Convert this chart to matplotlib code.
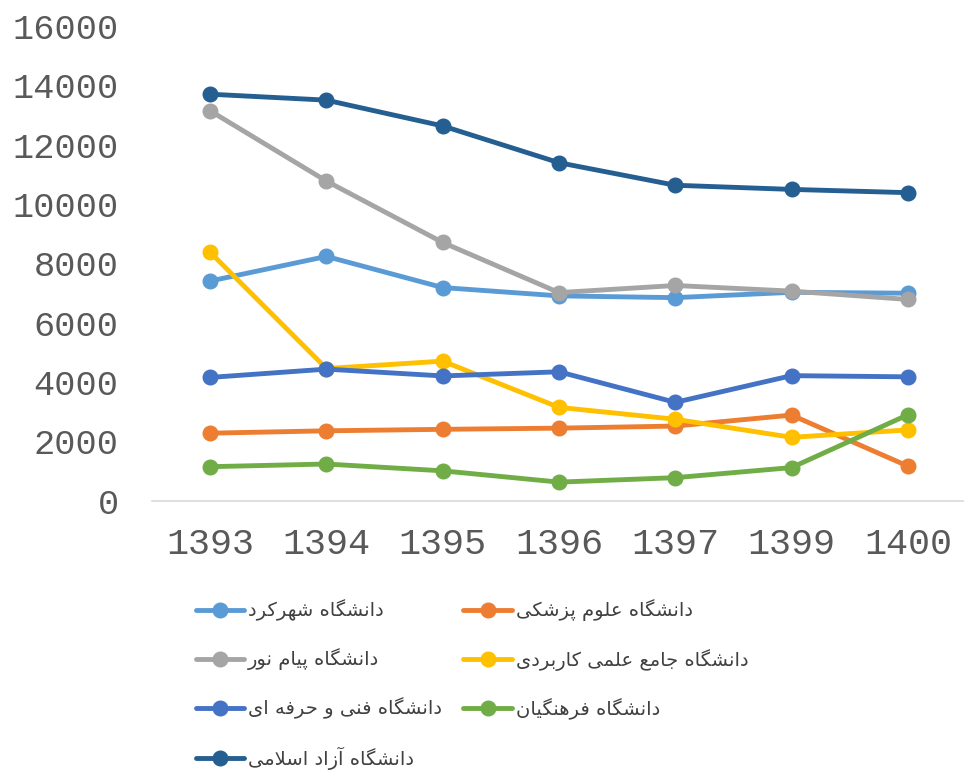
import matplotlib
matplotlib.use("Agg")
import matplotlib.pyplot as plt
from matplotlib.lines import Line2D
from matplotlib.font_manager import FontProperties

years = ["1393", "1394", "1395", "1396", "1397", "1399", "1400"]

shahrekord = [7400, 8230, 7180, 6900, 6840, 7020, 6990]
pezeshki = [2270, 2350, 2400, 2440, 2510, 2880, 1160]
payam_noor = [13140, 10770, 8700, 7010, 7250, 7060, 6780]
jame_karbordi = [8370, 4450, 4700, 3140, 2740, 2130, 2380]
fanni_herfei = [4150, 4430, 4200, 4340, 3310, 4210, 4170]
farhangian = [1140, 1230, 1000, 620, 770, 1110, 2890]
azad = [13700, 13500, 12630, 11390, 10630, 10490, 10380]

names = [
    "دانشگاه شهرکرد",
    "دانشگاه علوم پزشکی",
    "دانشگاه پیام نور",
    "دانشگاه جامع علمی کاربردی",
    "دانشگاه فنی و حرفه ای",
    "دانشگاه فرهنگیان",
    "دانشگاه آزاد اسلامی",
]
series = [shahrekord, pezeshki, payam_noor, jame_karbordi, fanni_herfei, farhangian, azad]
colors = ["#5B9BD5", "#ED7D31", "#A5A5A5", "#FFC000", "#4472C4", "#70AD47", "#255E91"]

# ---- minimal Persian shaping (presentation forms) + RTL ordering ----
FORMS = {
    '\u0627': ('\uFE8D', '\uFE8E', None, None),
    '\u0622': ('\uFE81', '\uFE82', None, None),
    '\u0628': ('\uFE8F', '\uFE90', '\uFE91', '\uFE92'),
    '\u067E': ('\uFB56', '\uFB57', '\uFB58', '\uFB59'),
    '\u062A': ('\uFE95', '\uFE96', '\uFE97', '\uFE98'),
    '\u062C': ('\uFE9D', '\uFE9E', '\uFE9F', '\uFEA0'),
    '\u062D': ('\uFEA1', '\uFEA2', '\uFEA3', '\uFEA4'),
    '\u062F': ('\uFEA9', '\uFEAA', None, None),
    '\u0631': ('\uFEAD', '\uFEAE', None, None),
    '\u0632': ('\uFEAF', '\uFEB0', None, None),
    '\u0633': ('\uFEB1', '\uFEB2', '\uFEB3', '\uFEB4'),
    '\u0634': ('\uFEB5', '\uFEB6', '\uFEB7', '\uFEB8'),
    '\u0639': ('\uFEC9', '\uFECA', '\uFECB', '\uFECC'),
    '\u0641': ('\uFED1', '\uFED2', '\uFED3', '\uFED4'),
    '\u06A9': ('\uFB8E', '\uFB8F', '\uFB90', '\uFB91'),
    '\u06AF': ('\uFB92', '\uFB93', '\uFB94', '\uFB95'),
    '\u0644': ('\uFEDD', '\uFEDE', '\uFEDF', '\uFEE0'),
    '\u0645': ('\uFEE1', '\uFEE2', '\uFEE3', '\uFEE4'),
    '\u0646': ('\uFEE5', '\uFEE6', '\uFEE7', '\uFEE8'),
    '\u0647': ('\uFEE9', '\uFEEA', '\uFEEB', '\uFEEC'),
    '\u0648': ('\uFEED', '\uFEEE', None, None),
    '\u06CC': ('\uFBFC', '\uFBFD', '\uFBFE', '\uFBFF'),
}
LAMALEF = {'\u0627': ('\uFEFB', '\uFEFC'), '\u0622': ('\uFEF5', '\uFEF6')}


def shape(text):
    chars = []
    i = 0
    while i < len(text):
        c = text[i]
        if c == '\u0644' and i + 1 < len(text) and text[i + 1] in LAMALEF:
            chars.append(('LA', text[i + 1]))
            i += 2
        else:
            chars.append(('C', c))
            i += 1

    def joins_next(item):
        kind, c = item
        if kind == 'LA':
            return False
        f = FORMS.get(c)
        return f is not None and f[2] is not None

    def joins_prev(item):
        kind, c = item
        if kind == 'LA':
            return True
        return c in FORMS

    out = []
    for idx, item in enumerate(chars):
        prev_j = idx > 0 and joins_next(chars[idx - 1]) and joins_prev(item)
        next_j = idx + 1 < len(chars) and joins_next(item) and joins_prev(chars[idx + 1])
        kind, c = item
        if kind == 'LA':
            out.append(LAMALEF[c][1] if prev_j else LAMALEF[c][0])
            continue
        f = FORMS.get(c)
        if f is None:
            out.append(c)
        elif prev_j and next_j:
            out.append(f[3])
        elif prev_j:
            out.append(f[1])
        elif next_j:
            out.append(f[2])
        else:
            out.append(f[0])
    return ''.join(reversed(out))


fig = plt.figure(figsize=(9.64, 7.83), dpi=100)
ax = fig.add_axes([152 / 964, 1 - 500.5 / 783, 814 / 964, (500.5 - 26) / 783])

x = list(range(len(years)))
for vals, col in zip(series, colors):
    ax.plot(x, vals, color=col, lw=3.5, marker='o', ms=10.5,
            solid_capstyle='round', solid_joinstyle='round', clip_on=False)

ax.set_xlim(-0.5, len(years) - 0.5)
ax.set_ylim(0, 16000)
ax.set_yticks(range(0, 16001, 2000))
ax.set_yticklabels([str(v) for v in range(0, 16001, 2000)])
ax.set_xticks(x)
ax.set_xticklabels(years)

for lab in ax.get_yticklabels():
    lab.set_fontproperties(FontProperties(family='Liberation Mono', size=25.5))
    lab.set_color('#595959')
for lab in ax.get_xticklabels():
    lab.set_fontproperties(FontProperties(family='Liberation Mono', size=26.5))
    lab.set_color('#595959')

ax.tick_params(axis='both', length=0)
ax.tick_params(axis='y', pad=24)
ax.tick_params(axis='x', pad=19)
for s in ['top', 'right', 'left']:
    ax.spines[s].set_visible(False)
ax.spines['bottom'].set_color('#D9D9D9')
ax.spines['bottom'].set_linewidth(1.2)

order = [0, 2, 4, 6, 1, 3, 5]
handles = [Line2D([], [], color=colors[i], lw=3.5, marker='o', ms=10.5,
                  solid_capstyle='round') for i in order]
labels = [shape(names[i]) for i in order]
leg = fig.legend(handles, labels, ncol=2, loc='upper left',
                 bbox_to_anchor=(178 / 964, 1 - 582 / 783),
                 frameon=False, prop={'family': 'DejaVu Sans', 'size': 14},
                 handlelength=2.5, handletextpad=0.2, columnspacing=1.1,
                 labelspacing=1.4, labelcolor='#404040')

fig.savefig('out.png', dpi=100)
